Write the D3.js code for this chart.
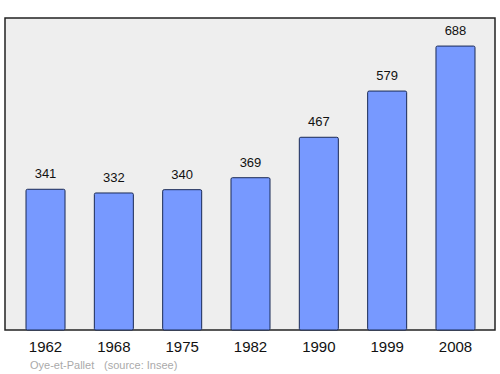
<!DOCTYPE html>
<html>
<head>
<meta charset="utf-8">
<script src="https://cdn.jsdelivr.net/npm/d3@7"></script>
<style>
  body { margin: 0; background: #fff; }
  text { font-family: "Liberation Sans", Arial, sans-serif; }
</style>
</head>
<body>
<script>
const years = ["1962", "1968", "1975", "1982", "1990", "1999", "2008"];
const population = [341, 332, 340, 369, 467, 579, 688];

const W = 500, H = 374;
const box = { left: 5, top: 18, right: 495, bottom: 330 };

const svg = d3.select("body")
  .append("svg")
  .attr("width", W)
  .attr("height", H);

// plot frame
svg.append("rect")
  .attr("x", box.left)
  .attr("y", box.top)
  .attr("width", box.right - box.left)
  .attr("height", box.bottom - box.top)
  .attr("fill", "#eeeeee")
  .attr("stroke", "#222")
  .attr("stroke-width", 1.5);

const x = d3.scaleBand()
  .domain(years)
  .range([26, 475])
  .paddingInner(0.429)
  .paddingOuter(0);

const y = d3.scaleLinear()
  .domain([0, 756])
  .range([box.bottom, box.top]);

const data = years.map((yr, i) => ({ year: yr, value: population[i] }));

svg.selectAll("rect.bar")
  .data(data)
  .enter()
  .append("rect")
  .attr("class", "bar")
  .attr("x", d => x(d.year))
  .attr("y", d => y(d.value))
  .attr("width", x.bandwidth())
  .attr("height", d => box.bottom - y(d.value))
  .attr("rx", 1.5)
  .attr("fill", "#7799ff")
  .attr("stroke", "#1a2a55")
  .attr("stroke-width", 1);

svg.selectAll("text.val")
  .data(data)
  .enter()
  .append("text")
  .attr("class", "val")
  .attr("x", d => x(d.year) + x.bandwidth() / 2)
  .attr("y", d => y(d.value) - 11)
  .attr("text-anchor", "middle")
  .attr("font-size", 13)
  .attr("fill", "#111")
  .text(d => d.value);

svg.selectAll("text.year")
  .data(data)
  .enter()
  .append("text")
  .attr("class", "year")
  .attr("x", d => x(d.year) + x.bandwidth() / 2)
  .attr("y", 352)
  .attr("text-anchor", "middle")
  .attr("font-size", 15)
  .attr("fill", "#111")
  .text(d => d.year);

svg.append("text")
  .attr("x", 30)
  .attr("y", 369)
  .attr("font-size", 11)
  .attr("fill", "#aaa")
  .text("Oye-et-Pallet");

svg.append("text")
  .attr("x", 104)
  .attr("y", 369)
  .attr("font-size", 11)
  .attr("fill", "#aaa")
  .text("(source: Insee)");
</script>
</body>
</html>
